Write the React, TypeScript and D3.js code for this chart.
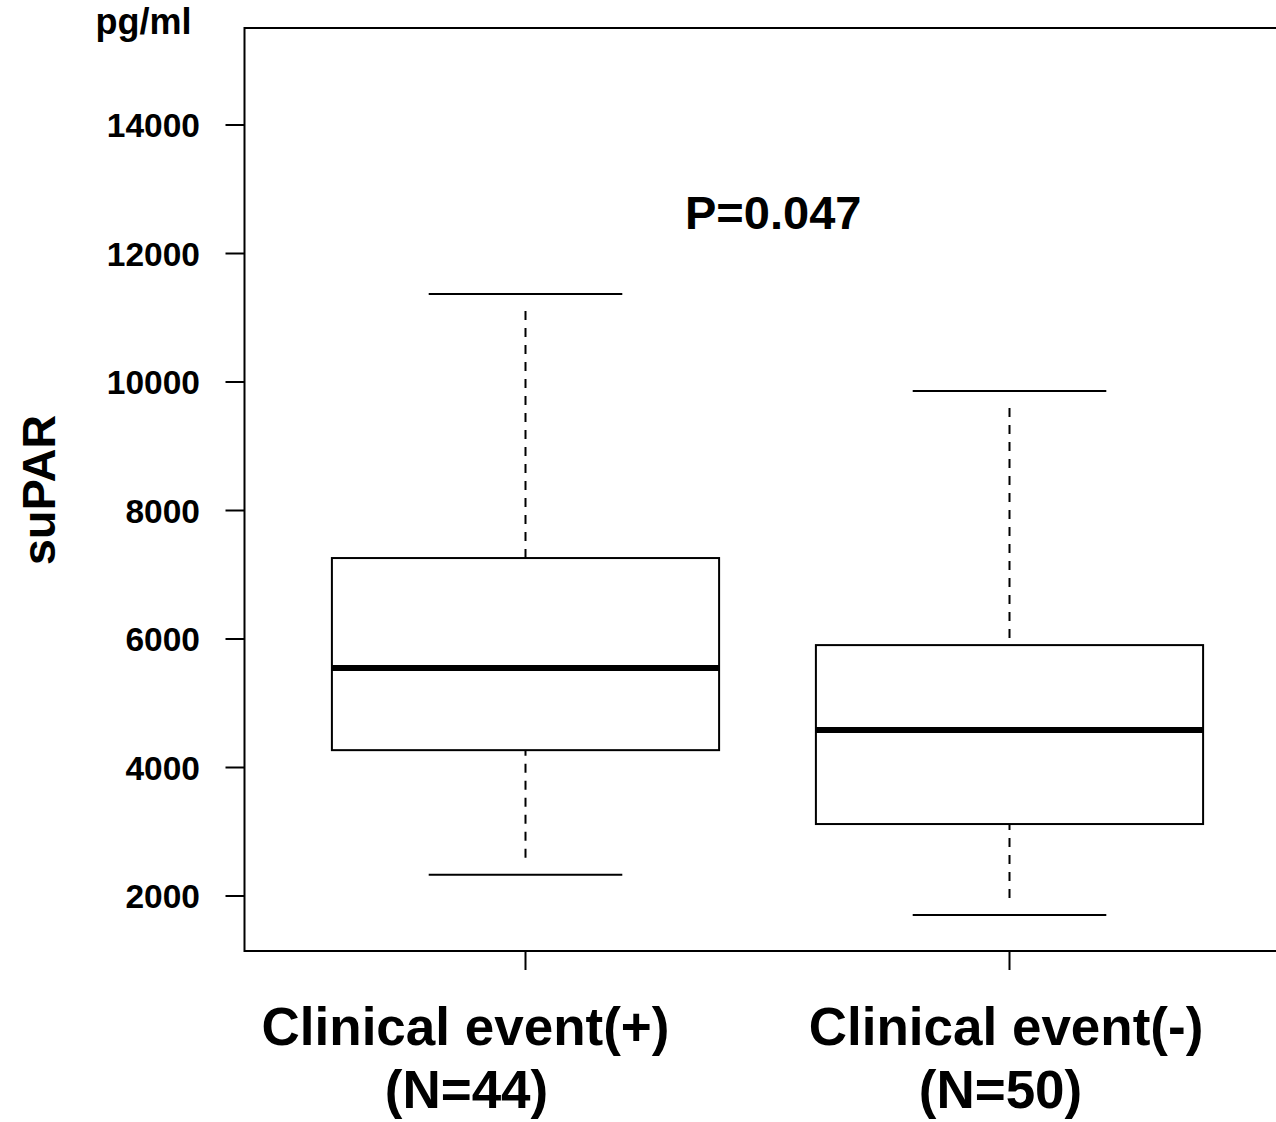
import React from "react";
import * as d3 from "d3";

const categories = ["Clinical event(+)", "Clinical event(-)"];
const nLabels = ["(N=44)", "(N=50)"];
const whiskerLow = [2330, 1705];
const q1 = [4270, 3120];
const medians = [5550, 4585];
const q3 = [7260, 5905];
const whiskerHigh = [11370, 9860];
const yTicks = [2000, 4000, 6000, 8000, 10000, 12000, 14000];
const pText = "P=0.047";
const unitText = "pg/ml";
const yTitle = "suPAR";

const W = 1276;
const H = 1122;
const FONT = "'Liberation Sans', Arial, Helvetica, sans-serif";

export default function App() {
  const plotLeft = 244.5;
  const plotTop = 28;
  const plotBottom = 951;
  const y = d3.scaleLinear().domain([2000, 14000]).range([896, 125]);
  const x = d3.scaleLinear().domain([1, 2]).range([525.5, 1009.5]);
  const unit = x(2) - x(1);
  const boxHalf = 0.4 * unit;
  const capHalf = 0.2 * unit;
  const skip = 17;
  const line1Offsets = [-60, -3.5];
  const line2Offsets = [-59, -9];

  return (
    <svg
      width={W}
      height={H}
      style={{ position: "absolute", left: 0, top: 0, background: "#fff" }}
      fontFamily={FONT}
      fontWeight="bold"
    >
      <rect x={0} y={0} width={W} height={H} fill="#fff" />
      <path
        d={`M${W + 10},${plotTop}H${plotLeft}V${plotBottom}H${W + 10}`}
        fill="none"
        stroke="#000"
        strokeWidth={2}
      />
      {yTicks.map((t) => (
        <g key={t}>
          <line x1={plotLeft - 19} x2={plotLeft} y1={y(t)} y2={y(t)} stroke="#000" strokeWidth={2} />
          <text x={200} y={y(t)} dy="0.36em" textAnchor="end" fontSize={33.5}>
            {t}
          </text>
        </g>
      ))}
      <text x={143.5} y={34} textAnchor="middle" fontSize={36}>
        {unitText}
      </text>
      <text
        transform={`translate(55,490) rotate(-90)`}
        textAnchor="middle"
        fontSize={47}
      >
        {yTitle}
      </text>
      {categories.map((c, i) => (
        <line
          key={c}
          x1={x(i + 1)}
          x2={x(i + 1)}
          y1={plotBottom}
          y2={plotBottom + 19}
          stroke="#000"
          strokeWidth={2}
        />
      ))}
      {categories.map((c, i) => {
        const cx = x(i + 1);
        const yHi = y(whiskerHigh[i]);
        const yLo = y(whiskerLow[i]);
        const yQ3 = y(q3[i]);
        const yQ1 = y(q1[i]);
        return (
          <g key={c}>
            <line x1={cx} x2={cx} y1={yHi + skip} y2={yQ3} stroke="#000" strokeWidth={2} strokeDasharray="9 8" />
            <line x1={cx} x2={cx} y1={yLo - skip} y2={yQ1} stroke="#000" strokeWidth={2} strokeDasharray="9 8" />
            <line x1={cx - capHalf} x2={cx + capHalf} y1={yHi} y2={yHi} stroke="#000" strokeWidth={2} />
            <line x1={cx - capHalf} x2={cx + capHalf} y1={yLo} y2={yLo} stroke="#000" strokeWidth={2} />
            <rect
              x={cx - boxHalf}
              y={yQ3}
              width={boxHalf * 2}
              height={yQ1 - yQ3}
              fill="#fff"
              stroke="#000"
              strokeWidth={2}
            />
            <line
              x1={cx - boxHalf}
              x2={cx + boxHalf}
              y1={y(medians[i])}
              y2={y(medians[i])}
              stroke="#000"
              strokeWidth={6}
            />
            <text x={cx + line1Offsets[i]} y={1045} textAnchor="middle" fontSize={53}>
              {c}
            </text>
            <text x={cx + line2Offsets[i]} y={1108} textAnchor="middle" fontSize={53}>
              {nLabels[i]}
            </text>
          </g>
        );
      })}
      <text x={685} y={229} fontSize={47}>
        {pText}
      </text>
    </svg>
  );
}
